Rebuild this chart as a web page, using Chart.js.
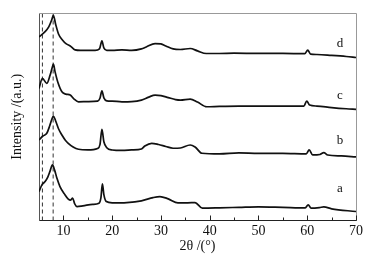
<!DOCTYPE html>
<html>
<head>
<meta charset="utf-8">
<script src="https://cdn.jsdelivr.net/npm/chart.js@4.4.0/dist/chart.umd.min.js"></script>
<style>
  html, body { margin: 0; padding: 0; background: #fff; }
  #wrap { width: 373px; height: 260px; }
</style>
</head>
<body>
<div id="wrap"><canvas id="xrd"></canvas></div>
<script>
// XRD patterns (intensity in arbitrary units, curves stacked)
var angleA = [5, 5.6, 6.25, 6.8, 7.3, 7.75, 8.2, 8.7, 9.3, 10.2, 11, 11.5, 11.9, 12.3, 12.8, 14, 16, 17.3, 17.7, 18, 18.3, 18.8, 20, 23, 26, 28.4, 29.8, 31.5, 33.5, 35.5, 37, 38.5, 42, 46, 50, 55, 59.6, 60.2, 60.8, 62.5, 63.4, 65, 70];
var intensityA = [29, 35.7, 39, 43.5, 50, 55.7, 50.5, 42, 34, 26.7, 21.5, 20.5, 22.4, 17, 14, 14.7, 16.2, 17.4, 23, 36.7, 26, 19, 17.7, 18, 19.7, 23, 24, 21.7, 17.7, 17.7, 18, 12.4, 12.7, 13.2, 13.7, 13.2, 12.7, 15.7, 12.4, 13, 13.7, 11.7, 9];

var angleB = [5, 5.8, 6.6, 7.2, 7.6, 7.95, 8.4, 9, 9.7, 10.4, 11, 12, 13.1, 15, 17, 17.5, 17.9, 18.3, 18.9, 20, 22, 24, 26, 26.7, 28.1, 29.5, 31, 32.5, 34, 36, 37, 38.4, 42, 46, 50, 55, 59.8, 60.4, 61.1, 62.6, 63.4, 64.2, 67, 70];
var intensityB = [80.7, 84.7, 87.4, 95, 101, 104.7, 100, 92, 85.7, 80.5, 77.4, 73.7, 71.4, 70.7, 72.2, 76, 91.4, 79, 73, 70.7, 70.2, 70.7, 71.7, 74.7, 77.4, 76.2, 74.2, 72.4, 72.7, 75.7, 73.7, 67.4, 66.7, 67.7, 67.2, 67.2, 66.7, 70.7, 65.7, 66.2, 68, 65.7, 64.7, 63.7];

var angleC = [5, 5.7, 6.6, 7.3, 7.7, 7.95, 8.3, 8.9, 9.7, 10.5, 11.4, 12.2, 13.1, 15, 17, 17.5, 17.9, 18.3, 18.9, 20, 22, 24, 26, 27.5, 28.8, 30, 31.5, 33, 34, 36, 37.5, 39.4, 42, 46, 50, 55, 59.3, 59.9, 60.5, 62, 65, 68, 70];
var intensityC = [132.4, 142.4, 137.4, 146, 153, 156.7, 149, 138, 129, 126.7, 125.7, 121.7, 119, 119.2, 119.7, 122.5, 130, 123, 120, 119.7, 119, 119.2, 120.7, 123.7, 125.7, 125.2, 123.2, 121.2, 120.7, 121.7, 118.7, 114, 114.4, 114.7, 114.7, 114.7, 114.7, 119.7, 115.7, 114.7, 113.2, 112, 111.4];

var angleD = [5, 6.2, 7, 7.6, 7.95, 8.4, 9, 9.8, 10.6, 11.4, 12.4, 13.5, 15, 16.5, 17.4, 17.9, 18.3, 18.9, 20, 22, 24, 26, 27, 28.8, 30, 31, 32.5, 34, 36, 37.5, 39.3, 42, 45, 50, 55, 59.5, 60.1, 60.7, 62, 65, 68, 70];
var intensityD = [184, 189, 194, 201, 205.7, 197, 187, 181, 177, 175, 171, 170.5, 170.5, 170.5, 172, 180, 173, 170.5, 170.5, 171, 170.5, 172, 174, 177.4, 177, 175, 172, 171.4, 172.4, 170, 167.4, 167.4, 167.7, 167.5, 167.5, 167.2, 170.7, 166.7, 166.4, 165.5, 164.4, 163.4];

var curveNames = ["a", "b", "c", "d"];
var nameAngle = [66.7, 66.7, 66.7, 66.7];
var nameLevel = [32.4, 79.7, 125.7, 177.4];

var guideAngles = [5.7, 7.9];
var majorTicks = [10, 20, 30, 40, 50, 60, 70];
var minorTicks = [15, 25, 35, 45, 55, 65];

function pts(xs, ys) {
  return xs.map(function(x, i) { return { x: x, y: ys[i] }; });
}

var serif = "'Liberation Serif', 'DejaVu Serif', serif";

var datasets = [
  { data: pts(angleA, intensityA) },
  { data: pts(angleB, intensityB) },
  { data: pts(angleC, intensityC) },
  { data: pts(angleD, intensityD) }
].map(function(d) {
  d.borderColor = "#111";
  d.borderWidth = 1.7;
  d.pointRadius = 0;
  d.cubicInterpolationMode = "monotone";
  return d;
});

guideAngles.forEach(function(a) {
  datasets.push({
    data: [{ x: a, y: 0 }, { x: a, y: 208 }],
    borderColor: "#333",
    borderWidth: 1,
    borderDash: [4, 3],
    pointRadius: 0
  });
});

// frame, inward ticks, curve letters
var decorations = {
  id: "decorations",
  afterDraw: function(chart) {
    var ctx = chart.ctx, area = chart.chartArea;
    var xs = chart.scales.x, ys = chart.scales.y;
    ctx.save();
    ctx.strokeStyle = "#999";
    ctx.lineWidth = 1;
    ctx.beginPath();
    ctx.moveTo(area.left, area.top + 0.5);
    ctx.lineTo(area.right + 0.5, area.top + 0.5);
    ctx.lineTo(area.right + 0.5, area.bottom);
    ctx.stroke();

    ctx.strokeStyle = "#222";
    majorTicks.forEach(function(v) {
      var px = Math.round(xs.getPixelForValue(v)) + 0.5;
      ctx.beginPath(); ctx.moveTo(px, area.bottom); ctx.lineTo(px, area.bottom - 5); ctx.stroke();
    });
    minorTicks.forEach(function(v) {
      var px = Math.round(xs.getPixelForValue(v)) + 0.5;
      ctx.beginPath(); ctx.moveTo(px, area.bottom); ctx.lineTo(px, area.bottom - 3); ctx.stroke();
    });

    ctx.fillStyle = "#111";
    ctx.font = "13px " + serif;
    ctx.textAlign = "center";
    ctx.textBaseline = "middle";
    curveNames.forEach(function(n, i) {
      ctx.fillText(n, xs.getPixelForValue(nameAngle[i]), ys.getPixelForValue(nameLevel[i]));
    });
    ctx.restore();
  }
};

new Chart(document.getElementById("xrd"), {
  type: "line",
  data: { datasets: datasets },
  options: {
    responsive: true,
    maintainAspectRatio: false,
    animation: false,
    layout: { padding: { left: 5, top: 13, right: 17, bottom: 1 } },
    plugins: { legend: { display: false }, tooltip: { enabled: false } },
    scales: {
      x: {
        type: "linear",
        min: 5,
        max: 70,
        afterBuildTicks: function(scale) {
          scale.ticks = majorTicks.map(function(v) { return { value: v }; });
        },
        afterFit: function(scale) { scale.height = 38.5; },
        grid: { display: false, drawTicks: false },
        border: { display: true, color: "#222", width: 1 },
        ticks: { padding: 2, maxRotation: 0, autoSkip: false, color: "#111", font: { family: serif, size: 14 } },
        title: { display: true, text: "2θ /(°)", color: "#111", font: { family: serif, size: 14 }, padding: { top: 0, bottom: 4 } }
      },
      y: {
        min: 0,
        max: 208,
        afterFit: function(scale) { scale.width = 34; },
        grid: { display: false, drawTicks: false },
        border: { display: true, color: "#555", width: 1 },
        ticks: { display: false },
        title: { display: true, text: "Intensity /(a.u.)", color: "#111", font: { family: serif, size: 14 }, padding: { top: 4, bottom: 0 } }
      }
    }
  },
  plugins: [decorations]
});
</script>
</body>
</html>
